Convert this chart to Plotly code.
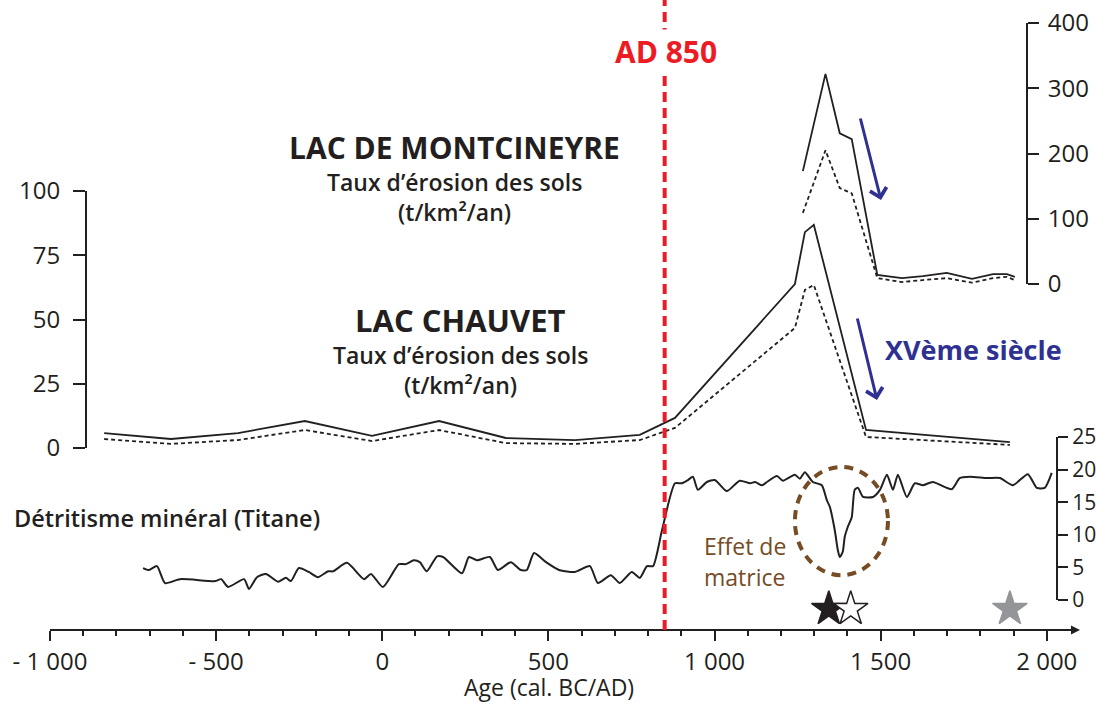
import plotly.graph_objects as go

# ---------------- data ----------------
chauvet_years = [-837, -636, -434, -233, -31, 171, 372, 580, 775, 881, 1242, 1272, 1299, 1456, 1889]
chauvet_solid = [5.8, 3.5, 5.8, 10.5, 4.7, 10.5, 3.9, 3.1, 5.1, 11.7, 63.8, 84, 86.8, 7.0, 2.3]
chauvet_dashed = [3.5, 1.6, 3.1, 7.0, 2.7, 7.0, 1.9, 1.6, 3.1, 7.8, 46.7, 61.5, 63.4, 4.3, 1.2]

mont_years = [1266, 1334, 1377, 1413, 1490, 1564, 1627, 1699, 1775, 1838, 1880, 1904]
mont_solid = [173, 322, 231, 222, 14, 9, 12, 17, 8, 15, 15, 11]
mont_dashed = [109, 205, 147, 139, 9, 3, 6, 9, 2, 9, 11, 6]

ti_years = [-720, -702, -678, -654, -609, -503, -485, -464, -416, -401,
            -377, -350, -314, -290, -275, -251, -221, -194, -163, -148,
            -106, -55, -34, 2, 50, 71, 95, 113, 134, 165,
            183, 240, 261, 285, 324, 348, 387, 417, 435, 457,
            493, 532, 580, 625, 649, 688, 715, 751, 775, 797,
            815, 842, 881, 902, 920, 935, 950, 977, 1001, 1037,
            1076, 1107, 1122, 1143, 1158, 1188, 1206, 1242, 1257, 1272,
            1296, 1323, 1338, 1347, 1362, 1371, 1377, 1386, 1392, 1401,
            1413, 1422, 1432, 1447, 1477, 1498, 1519, 1537, 1552, 1579,
            1603, 1627, 1657, 1714, 1738, 1769, 1820, 1859, 1898, 1943,
            1970, 1994, 2015]
ti_vals = [4.9, 4.6, 5.2, 2.6, 3.2, 2.9, 3.2, 2.0, 3.2, 1.7,
           3.5, 4.0, 2.8, 3.4, 2.9, 4.9, 4.3, 3.5, 4.4, 4.4,
           5.7, 3.2, 4.0, 2.0, 5.5, 5.5, 6.1, 5.8, 4.4, 6.7,
           6.6, 4.1, 6.6, 6.1, 6.6, 4.6, 5.8, 4.6, 4.6, 7.2,
           5.8, 4.6, 4.3, 5.2, 2.6, 3.8, 2.6, 4.3, 3.4, 5.2,
           5.2, 10.7, 17.9, 17.9, 18.4, 18.9, 16.9, 18.1, 18.4, 16.7,
           18.3, 17.9, 18.1, 17.6, 18.1, 19.0, 18.3, 19.2, 18.6, 19.6,
           18.1, 17.6, 15.3, 14.3, 10.7, 7.7, 6.6, 7.4, 9.7, 11.2,
           12.7, 16.9, 17.2, 15.8, 15.8, 16.9, 19.2, 16.9, 19.2, 15.8,
           17.9, 17.6, 18.1, 17.0, 18.7, 18.9, 18.7, 18.7, 17.6, 19.3,
           17.2, 17.2, 19.5]

star_years = [1344, 1410, 1889]
star_level = [0.5, 0.5, 0.5]
star_fill = ["#231f20", "white", "#939598"]
star_edge = ["#231f20", "#231f20", "#939598"]

x_tickvals = [-1000, -500, 0, 500, 1000, 1500, 2000]
x_ticktext = ["- 1 000", "- 500", "0", "500", "1 000", "1 500", "2 000"]
chauvet_ticks = [0, 25, 50, 75, 100]
mont_ticks = [0, 100, 200, 300, 400]
ti_ticks = [0, 5, 10, 15, 20, 25]
event_year = 850

# ---------------- style / layout helpers ----------------
INK = "#231f20"
RED = "#ed1c24"
BLUE = "#2e3192"
BROWN = "#754c24"
FONT = "Open Sans"
W, H = 1096, 702
ML, MR, MT, MB = 50, 21, 10, 72
PW, PH = W - ML - MR, H - MT - MB


def px(x):
    return (x - ML) / PW


def py(y):
    return (H - MB - y) / PH


fig = go.Figure()

fig.add_trace(go.Scatter(x=chauvet_years, y=chauvet_solid, mode="lines",
                         line=dict(color=INK, width=1.8), xaxis="x", yaxis="y", showlegend=False))
fig.add_trace(go.Scatter(x=chauvet_years, y=chauvet_dashed, mode="lines",
                         line=dict(color=INK, width=1.8, dash="4px,3px"), xaxis="x", yaxis="y", showlegend=False))
fig.add_trace(go.Scatter(x=mont_years, y=mont_solid, mode="lines",
                         line=dict(color=INK, width=1.8), xaxis="x", yaxis="y2", showlegend=False))
fig.add_trace(go.Scatter(x=mont_years, y=mont_dashed, mode="lines",
                         line=dict(color=INK, width=1.8, dash="4px,3px"), xaxis="x", yaxis="y2", showlegend=False))
fig.add_trace(go.Scatter(x=ti_years, y=ti_vals, mode="lines",
                         line=dict(color=INK, width=2, shape="spline", smoothing=0.6),
                         xaxis="x", yaxis="y3", showlegend=False))
fig.add_trace(go.Scatter(x=star_years, y=star_level, mode="markers",
                         marker=dict(symbol="star", size=26, color=star_fill,
                                     line=dict(color=star_edge, width=1.5)),
                         cliponaxis=False, xaxis="x", yaxis="y4", showlegend=False))

tickfont = dict(family=FONT, size=24, color=INK)
common_y = dict(showline=True, linecolor=INK, linewidth=2, ticks="outside", tickcolor=INK,
                tickwidth=2, showgrid=False, zeroline=False,
                anchor="free", autorange=False, fixedrange=True, automargin=False)

fig.update_layout(
    width=W, height=H, autosize=False,
    margin=dict(l=ML, r=MR, t=MT, b=MB, pad=0, autoexpand=False),
    paper_bgcolor="white", plot_bgcolor="rgba(0,0,0,0)",
    font=dict(family=FONT, color=INK),
    xaxis=dict(domain=[0, 1], range=[-1000, 2085], autorange=False, anchor="free", position=0,
               showline=True, linecolor=INK, linewidth=2, ticks="outside", ticklen=10,
               tickwidth=1.5, tickcolor=INK, tickvals=x_tickvals, ticktext=x_ticktext,
               tickfont=tickfont, showgrid=False, zeroline=False, ticklabelstandoff=0,
               automargin=False, fixedrange=True,
               minor=dict(tick0=-1000, dtick=100, ticks="outside", ticklen=5,
                          tickwidth=1.5, tickcolor=INK, showgrid=False)),
    yaxis=dict(domain=[py(448), py(191)], range=[0, 100], tickvals=chauvet_ticks,
               position=px(86), side="left", ticklen=12, ticklabelstandoff=8,
               tickfont=tickfont, **common_y),
    yaxis2=dict(domain=[py(284), py(23)], range=[0, 400], tickvals=mont_ticks,
                position=px(1027), side="right", ticklen=11, ticklabelstandoff=4,
                tickfont=tickfont, **common_y),
    yaxis3=dict(domain=[py(600), py(437)], range=[0, 25], tickvals=ti_ticks,
                position=px(1057), side="right", ticklen=10, ticklabelstandoff=0,
                tickfont=dict(family=FONT, size=21, color=INK), **common_y),
    yaxis4=dict(domain=[py(624), py(594)], range=[0, 1], visible=False, anchor="free",
                position=0, fixedrange=True, automargin=False),
)

# vertical AD 850 line
fig.add_shape(type="line", xref="x", yref="paper", x0=event_year, x1=event_year,
              y0=0, y1=py(0), line=dict(color=RED, width=4, dash="10px,6px"))
# matrix effect circle
fig.add_shape(type="circle", xref="x", yref="y3", x0=1242, x1=1522, y0=3.8, y1=20.4,
              line=dict(color=BROWN, width=4, dash="9px,7px"))

ann = []


def text(x, y, s, size, color=INK, weight=400, xanchor="center", bg=None):
    d = dict(xref="paper", yref="paper", x=px(x), y=py(y), text=s, showarrow=False,
             xanchor=xanchor, yanchor="middle",
             font=dict(family=FONT, size=size, color=color, weight=weight))
    if bg:
        d["bgcolor"] = bg
    ann.append(d)


text(666, 51, "AD 850", 30, RED, 700, bg="white")
text(454, 148, "LAC DE MONTCINEYRE", 30, INK, 700)
text(454, 182, "Taux d’érosion des sols", 23, INK, 600)
text(454, 212, "(t/km²/an)", 23, INK, 600)
text(460, 320, "LAC CHAUVET", 31, INK, 700)
text(460, 355, "Taux d’érosion des sols", 23, INK, 600)
text(460, 385, "(t/km²/an)", 23, INK, 600)
text(883, 349, "XVème siècle", 27, BLUE, 700, xanchor="left")
text(12, 518, "Détritisme minéral (Titane)", 23.5, INK, 600, xanchor="left")
text(702, 546, "Effet de", 23, BROWN, 400, xanchor="left")
text(702, 577, "matrice", 23, BROWN, 400, xanchor="left")
text(549, 687, "Age (cal. BC/AD)", 23, INK, 400)

# blue arrows
for tip_x, tip_y, dx, dy in [(881, 200, -21, -83), (877, 400, -20, -83)]:
    ann.append(dict(xref="paper", yref="paper", x=px(tip_x), y=py(tip_y), text="",
                    showarrow=True, ax=dx, ay=dy, arrowhead=4, arrowsize=1.1,
                    arrowwidth=3, arrowcolor=BLUE))
# x-axis arrow
ann.append(dict(xref="paper", yref="paper", x=px(1080), y=0, text="", showarrow=True,
                ax=-14, ay=0, arrowhead=2, arrowsize=1.2, arrowwidth=1.5, arrowcolor=INK))

fig.update_layout(annotations=ann)

fig.write_html("out.html", config={"displayModeBar": False},
               post_script="document.body.style.margin='0';")
